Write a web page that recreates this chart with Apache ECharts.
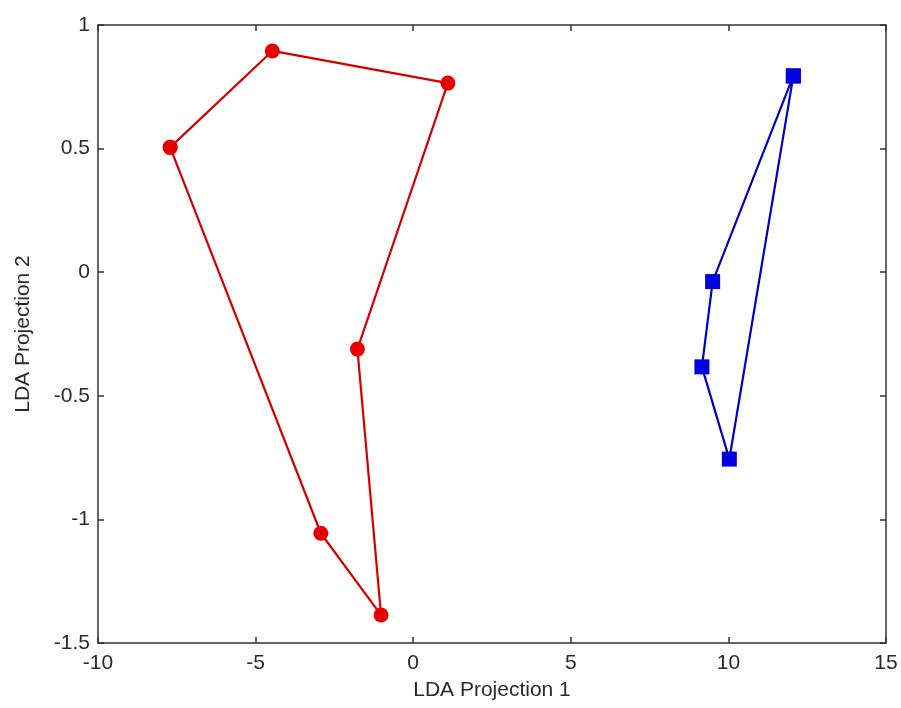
<!DOCTYPE html>
<html>
<head>
<meta charset="utf-8">
<script src="https://cdn.jsdelivr.net/npm/echarts@6/dist/echarts.min.js"></script>
<style>
  html, body { margin: 0; padding: 0; background: #fff; }
  #chart { width: 901px; height: 708px; }
</style>
</head>
<body>
<div id="chart"></div>
<script>
// Class 1 projections (closed outline, first point repeated at the end)
const class1X = [-7.71, -4.47, 1.10, -1.77, -1.02, -2.93, -7.71];
const class1Y = [0.505, 0.895, 0.765, -0.311, -1.387, -1.056, 0.505];
// Class 2 projections
const class2X = [12.06, 9.50, 9.16, 10.03, 12.06];
const class2Y = [0.794, -0.038, -0.383, -0.756, 0.794];

const xTicks = { min: -10, max: 15, interval: 5 };
const yTicks = { min: -1.5, max: 1, interval: 0.5 };

const pairs = (xs, ys) => xs.map((x, i) => [x, ys[i]]);

const font = 'Liberation Sans, Arial, sans-serif';
const fontSize = 21;
const axisColor = '#333';
const textColor = '#2a2a2a';

// Shared style for the four sides of the plot box
const frameAxis = {
  type: 'value',
  axisLine: { show: true, onZero: false, lineStyle: { color: axisColor, width: 1.5 } },
  axisTick: { show: true, inside: true, length: 6, lineStyle: { color: axisColor, width: 1.5 } },
  splitLine: { show: false }
};

const chart = echarts.init(document.getElementById('chart'));
chart.setOption({
  animation: false,
  backgroundColor: '#fff',
  grid: { left: 98, right: 15, top: 25, bottom: 65, containLabel: false },
  xAxis: [
    Object.assign({}, frameAxis, {
      position: 'bottom',
      min: xTicks.min, max: xTicks.max, interval: xTicks.interval,
      name: 'LDA Projection 1',
      nameLocation: 'middle',
      nameGap: 37,
      nameTextStyle: { fontFamily: font, fontSize: fontSize, color: textColor },
      axisLabel: { fontFamily: font, fontSize: fontSize, color: textColor, margin: 10 }
    }),
    Object.assign({}, frameAxis, {
      position: 'top',
      min: xTicks.min, max: xTicks.max, interval: xTicks.interval,
      axisLabel: { show: false }
    })
  ],
  yAxis: [
    Object.assign({}, frameAxis, {
      position: 'left',
      min: yTicks.min, max: yTicks.max, interval: yTicks.interval,
      name: 'LDA Projection 2',
      nameLocation: 'middle',
      nameGap: 64,
      nameTextStyle: { fontFamily: font, fontSize: fontSize, color: textColor },
      axisLabel: { fontFamily: font, fontSize: fontSize, color: textColor, margin: 8 }
    }),
    Object.assign({}, frameAxis, {
      position: 'right',
      min: yTicks.min, max: yTicks.max, interval: yTicks.interval,
      axisLabel: { show: false }
    })
  ],
  series: [
    {
      name: 'Class 1',
      type: 'line',
      xAxisIndex: 0, yAxisIndex: 0,
      data: pairs(class1X, class1Y),
      symbol: 'circle',
      symbolSize: 15,
      showAllSymbol: true,
      lineStyle: { color: '#d40000', width: 2.2 },
      itemStyle: { color: '#e80000', borderWidth: 0 },
      z: 3
    },
    {
      name: 'Class 2',
      type: 'line',
      xAxisIndex: 0, yAxisIndex: 0,
      data: pairs(class2X, class2Y),
      symbol: 'rect',
      symbolSize: 15,
      showAllSymbol: true,
      lineStyle: { color: '#0000c0', width: 2.2 },
      itemStyle: { color: '#0000e0', borderWidth: 0 },
      z: 3
    }
  ]
});
</script>
</body>
</html>
